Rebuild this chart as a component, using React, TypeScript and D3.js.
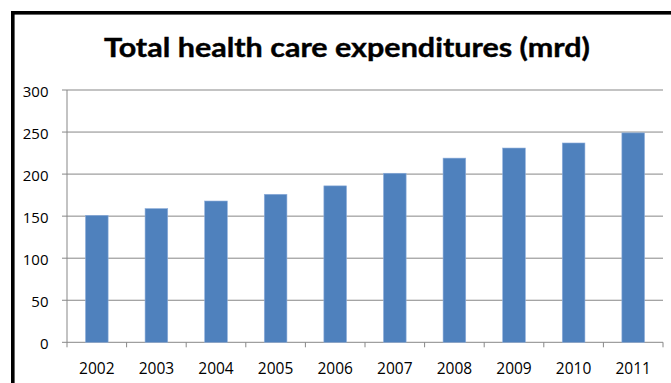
import React from "react";
import * as d3 from "d3";

const years = ["2002", "2003", "2004", "2005", "2006", "2007", "2008", "2009", "2010", "2011"];
const values = [151, 159, 168, 176, 186, 201, 219, 231, 237, 249];
const yTicks = [0, 50, 100, 150, 200, 250, 300];
const title = "Total health care expenditures (mrd)";

const W = 671;
const H = 383;
const plotLeft = 67;
const plotRight = 663;
const plotTop = 90;
const plotBottom = 342.3;
const titleFont = "Lato, 'Open Sans', sans-serif";
const labelFont = "'Open Sans', Lato, sans-serif";
const gridColor = "#878787";

export default function App() {
  const x = d3
    .scaleBand<string>()
    .domain(years)
    .range([plotLeft, plotRight])
    .paddingInner(0.62)
    .paddingOuter(0.31);
  const y = d3.scaleLinear().domain([0, 300]).range([plotBottom, plotTop]);
  const step = x.step();
  const boundaries = d3.range(years.length + 1).map((i) => plotLeft + i * step);

  return (
    <svg
      width={W}
      height={H}
      style={{ position: "absolute", left: 0, top: 0, background: "#fff" }}
    >
      <rect x={0} y={0} width={W} height={H} fill="#fff" />
      <rect
        x={12.8}
        y={12.8}
        width={W + 20}
        height={H + 20}
        fill="none"
        stroke="#000"
        strokeWidth={3.6}
      />
      <text
        x={347}
        y={57}
        textAnchor="middle"
        fontFamily={titleFont}
        fontWeight="bold"
        fontSize={27}
        textLength={486}
        lengthAdjust="spacingAndGlyphs"
        stroke="#000"
        strokeWidth={0.4}
        fill="#000"
      >
        {title}
      </text>
      {yTicks.map((t) => (
        <g key={t}>
          <line
            x1={plotLeft - 5}
            x2={plotRight}
            y1={y(t)}
            y2={y(t)}
            stroke={gridColor}
            strokeWidth={1}
          />
          <text
            x={48.5}
            y={y(t) + 6.7}
            textAnchor="end"
            fontFamily={labelFont}
            fontSize={15}
            fill="#000"
          >
            {t}
          </text>
        </g>
      ))}
      <line x1={plotLeft} x2={plotLeft} y1={plotTop} y2={plotBottom} stroke={gridColor} strokeWidth={1} />
      {boundaries.map((b, i) => (
        <line key={i} x1={b} x2={b} y1={plotBottom} y2={plotBottom + 5} stroke={gridColor} strokeWidth={1} />
      ))}
      {years.map((yr, i) => (
        <rect
          key={yr}
          x={x(yr)!}
          y={y(values[i])}
          width={x.bandwidth()}
          height={plotBottom - y(values[i])}
          fill="#4F81BD"
          stroke="#8eaedb"
          strokeWidth={0.6}
        />
      ))}
      {years.map((yr) => (
        <text
          key={yr}
          x={x(yr)! + x.bandwidth() / 2}
          y={374}
          textAnchor="middle"
          fontFamily={labelFont}
          fontSize={15.5}
          fill="#000"
        >
          {yr}
        </text>
      ))}
    </svg>
  );
}
